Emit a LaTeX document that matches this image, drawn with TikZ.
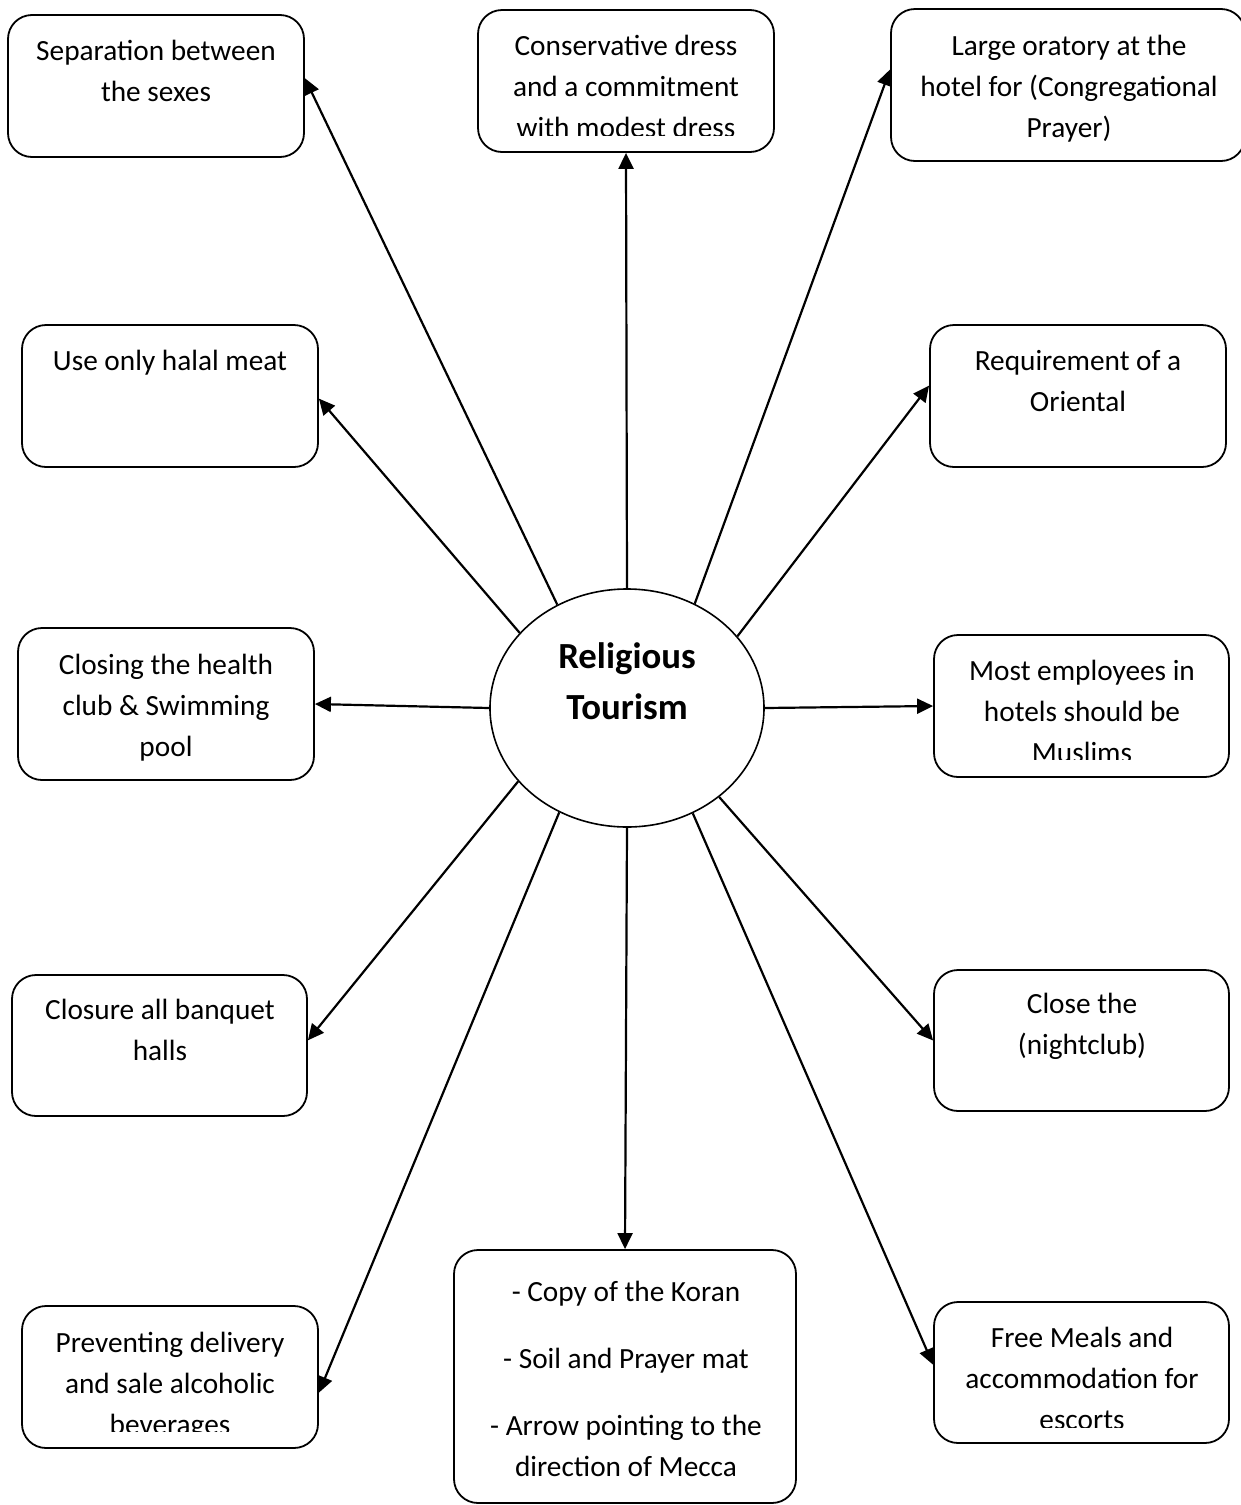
\documentclass[tikz,border=0pt]{standalone}
\usepackage{fontspec}
\setmainfont{Carlito}
\usetikzlibrary{arrows.meta,shapes.geometric}
\begin{document}
\begin{tikzpicture}[x=1pt,y=-1pt,
  box/.style={draw,line width=1.8pt,rounded corners=24pt,inner sep=0pt},
  txt/.style={font=\fontsize{29.3}{41}\selectfont,align=center,inner sep=0pt,anchor=base},
  arr/.style={-{Triangle[length=16pt,width=15pt]},line width=2.2pt}]
\useasboundingbox[fill=white] (0,0) rectangle (1241,1505);
% boxes
\node[box,minimum width=296pt,minimum height=142pt] (b1) at (156,86) {};
\node[box,minimum width=296pt,minimum height=142pt] (b2) at (626,81) {};
\node[box,minimum width=354pt,minimum height=152pt] (b3) at (1068,85) {};
\node[box,minimum width=296pt,minimum height=142pt] (b4) at (170,396) {};
\node[box,minimum width=296pt,minimum height=142pt] (b5) at (1078,396) {};
\node[box,minimum width=296pt,minimum height=152pt] (b6) at (166,704) {};
\node[draw,line width=1.6pt,ellipse,inner sep=0pt,minimum width=274pt,minimum height=238pt] (c) at (627,708) {};
\node[box,minimum width=295pt,minimum height=142pt] (b8) at (1081.5,706) {};
\node[box,minimum width=295pt,minimum height=141pt] (b9) at (159.5,1045.5) {};
\node[box,minimum width=295pt,minimum height=141pt] (b10) at (1081.5,1040.5) {};
\node[box,minimum width=296pt,minimum height=142pt] (b11) at (170,1377) {};
\node[box,minimum width=342pt,minimum height=253pt] (b12) at (625,1376.5) {};
\node[box,minimum width=295pt,minimum height=141pt] (b13) at (1081.5,1372.5) {};
% texts (anchor = baseline of the last line)
\node[txt] (t1) at (156,101) {Separation between\\the sexes};
\begin{scope}
\clip (0,0) rectangle (1241,135);
\node[txt] (t2) at (626,137) {Conservative dress\\and a commitment\\with modest dress};
\end{scope}
\node[txt] (t3) at (1069,137) {Large oratory at the\\hotel for (Congregational\\Prayer)};
\node[txt] (t4) at (170,370) {Use only halal meat};
\node[txt] (t5) at (1078,411) {Requirement of a\\Oriental};
\node[txt] (t6) at (166,756) {Closing the health\\club \& Swimming\\pool};
\node[txt,font=\fontsize{36.8}{51}\selectfont\bfseries] (tc) at (627,719) {Religious\\Tourism};
\begin{scope}
\clip (0,0) rectangle (1241,759);
\node[txt] (t8) at (1082,762) {Most employees in\\hotels should be\\Muslims};
\end{scope}
\node[txt] (t9) at (160,1060) {Closure all banquet\\halls};
\node[txt] (t10) at (1082,1054) {Close the\\(nightclub)};
\begin{scope}
\clip (0,0) rectangle (1241,1431);
\node[txt] (t11) at (170,1434) {Preventing delivery\\and sale alcoholic\\beverages};
\end{scope}
\node[txt] (t12) at (626,1476) {- Copy of the Koran\\[26pt]- Soil and Prayer mat\\[26pt]- Arrow pointing to the\\direction of Mecca};
\begin{scope}
\clip (0,0) rectangle (1241,1427);
\node[txt] (t13) at (1082,1429) {Free Meals and\\accommodation for\\escorts};
\end{scope}
% arrows
\draw[arr] (c.124) -- (b1.3.5);
\draw[arr] (c.north) -- (b2.south);
\draw[arr] (c.57.2) -- (b3.175.8);
\draw[arr] (c.145.8) -- (b4.-1.5);
\draw[arr] (c.33.2) -- (b5.176.9);
\draw[arr] (c.west) -- (b6.east);
\draw[arr] (c.east) -- (b8.west);
\draw[arr] (c.214.5) -- (b9.2.3);
\draw[arr] (c.-44) -- (b10.west);
\draw[arr] (c.237.9) -- (b11.-6.9);
\draw[arr] (c.south) -- (b12.north);
\draw[arr] (c.-58.7) -- (b13.177.3);
\end{tikzpicture}
\end{document}
